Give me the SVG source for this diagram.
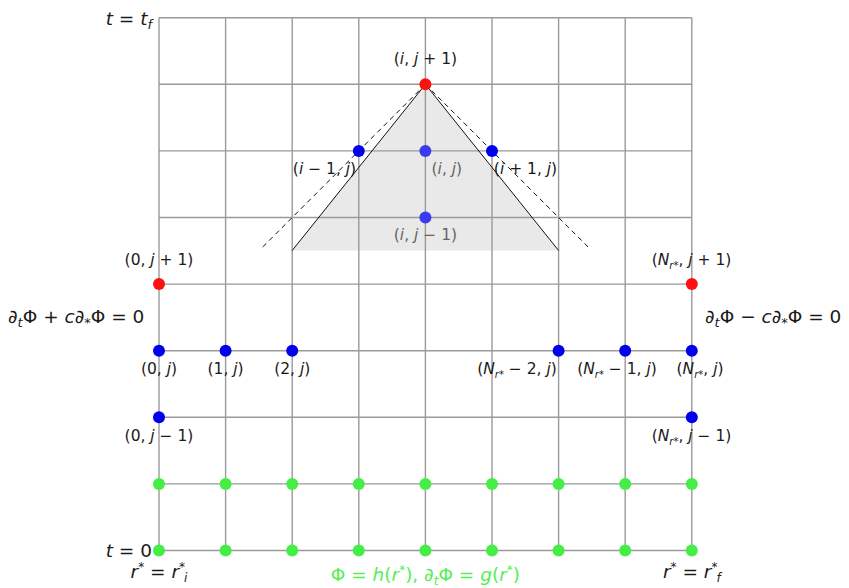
<svg xmlns="http://www.w3.org/2000/svg" width="849" height="588" viewBox="0 0 849 588">
<style>
.grid{stroke:#9a9a9a;stroke-width:1.4;fill:none}
.side{stroke:#111;stroke-width:1;fill:none}
.dash{stroke:#111;stroke-width:1;fill:none;stroke-dasharray:5 4}
.lbl{font-family:"DejaVu Sans","Noto Sans",sans-serif;font-size:15.5px;fill:#1a1a1a}
.lblg{font-family:"DejaVu Sans","Noto Sans",sans-serif;font-size:15.5px;fill:#666}
.big{font-family:"DejaVu Sans","Noto Sans",sans-serif;font-size:18.5px;fill:#1a1a1a}
.green{font-family:"DejaVu Sans","Noto Sans",sans-serif;font-size:18.5px;fill:#55ee55}
.it{font-style:italic}
.red{fill:#ff1010}
.blue{fill:#0000ee}
.lblue{fill:#3a3aee}
.grn{fill:#44ee44}
</style>
<rect width="849" height="588" fill="#ffffff"/>
<polygon points="425.4,84.3 292.2,250.5 558.6,250.5" fill="#e9e9e9"/>
<g id="connectors">
<g class="grid">
<line x1="159" y1="17.7" x2="159" y2="550.5"/>
<line x1="225.6" y1="17.7" x2="225.6" y2="550.5"/>
<line x1="292.2" y1="17.7" x2="292.2" y2="550.5"/>
<line x1="358.8" y1="17.7" x2="358.8" y2="550.5"/>
<line x1="425.4" y1="17.7" x2="425.4" y2="550.5"/>
<line x1="492" y1="17.7" x2="492" y2="550.5"/>
<line x1="558.6" y1="17.7" x2="558.6" y2="550.5"/>
<line x1="625.2" y1="17.7" x2="625.2" y2="550.5"/>
<line x1="691.8" y1="17.7" x2="691.8" y2="550.5"/>
<line x1="159" y1="17.7" x2="691.8" y2="17.7"/>
<line x1="159" y1="84.3" x2="691.8" y2="84.3"/>
<line x1="159" y1="150.9" x2="691.8" y2="150.9"/>
<line x1="159" y1="217.5" x2="691.8" y2="217.5"/>
<line x1="159" y1="284.1" x2="691.8" y2="284.1"/>
<line x1="159" y1="350.7" x2="691.8" y2="350.7"/>
<line x1="159" y1="417.3" x2="691.8" y2="417.3"/>
<line x1="159" y1="483.9" x2="691.8" y2="483.9"/>
<line x1="159" y1="550.5" x2="691.8" y2="550.5"/>
</g>
<line class="side" x1="425.4" y1="84.3" x2="292.2" y2="250.5"/>
<line class="side" x1="425.4" y1="84.3" x2="558.6" y2="250.5"/>
<line class="dash" x1="425.4" y1="84.3" x2="261" y2="248.7"/>
<line class="dash" x1="425.4" y1="84.3" x2="589.8" y2="248.7"/>
</g>
<g id="n_i_jp1"><circle class="red" cx="425.4" cy="84.3" r="6"/><text class="lbl" x="425.4" y="64" text-anchor="middle">(<tspan class="it">i</tspan>, <tspan class="it">j</tspan> + 1)</text></g>
<g id="n_im1_j"><circle class="blue" cx="358.8" cy="150.9" r="6"/><text class="lbl" x="324.5" y="174" text-anchor="middle">(<tspan class="it">i</tspan> − 1, <tspan class="it">j</tspan>)</text></g>
<g id="n_i_j"><circle class="lblue" cx="425.4" cy="150.9" r="6"/><text class="lblg" x="431.5" y="174">(<tspan class="it">i</tspan>, <tspan class="it">j</tspan>)</text></g>
<g id="n_ip1_j"><circle class="blue" cx="492" cy="150.9" r="6"/><text class="lbl" x="525.5" y="174" text-anchor="middle">(<tspan class="it">i</tspan> + 1, <tspan class="it">j</tspan>)</text></g>
<g id="n_i_jm1"><circle class="lblue" cx="425.4" cy="217.5" r="6"/><text class="lblg" x="425.4" y="240" text-anchor="middle">(<tspan class="it">i</tspan>, <tspan class="it">j</tspan> − 1)</text></g>
<g id="n_0_jp1"><circle class="red" cx="159" cy="284.1" r="6"/><text class="lbl" x="159" y="265" text-anchor="middle">(0, <tspan class="it">j</tspan> + 1)</text></g>
<g id="n_N_jp1"><circle class="red" cx="691.8" cy="284.1" r="6"/><text class="lbl" x="691.5" y="265" text-anchor="middle">(<tspan class="it">N</tspan><tspan class="it" font-size="10" dy="4">r*</tspan><tspan dy="-4">, </tspan><tspan class="it">j</tspan> + 1)</text></g>
<g id="n_0_j"><circle class="blue" cx="159" cy="350.7" r="6"/><text class="lbl" x="159" y="374" text-anchor="middle">(0, <tspan class="it">j</tspan>)</text></g>
<g id="n_1_j"><circle class="blue" cx="225.6" cy="350.7" r="6"/><text class="lbl" x="225.6" y="374" text-anchor="middle">(1, <tspan class="it">j</tspan>)</text></g>
<g id="n_2_j"><circle class="blue" cx="292.2" cy="350.7" r="6"/><text class="lbl" x="292.2" y="374" text-anchor="middle">(2, <tspan class="it">j</tspan>)</text></g>
<g id="n_Nm2_j"><circle class="blue" cx="558.6" cy="350.7" r="6"/><text class="lbl" x="517" y="374" text-anchor="middle">(<tspan class="it">N</tspan><tspan class="it" font-size="10" dy="4">r*</tspan><tspan dy="-4"> − 2, </tspan><tspan class="it">j</tspan>)</text></g>
<g id="n_Nm1_j"><circle class="blue" cx="625.2" cy="350.7" r="6"/><text class="lbl" x="617" y="374" text-anchor="middle">(<tspan class="it">N</tspan><tspan class="it" font-size="10" dy="4">r*</tspan><tspan dy="-4"> − 1, </tspan><tspan class="it">j</tspan>)</text></g>
<g id="n_N_j"><circle class="blue" cx="691.8" cy="350.7" r="6"/><text class="lbl" x="700" y="374" text-anchor="middle">(<tspan class="it">N</tspan><tspan class="it" font-size="10" dy="4">r*</tspan><tspan dy="-4">, </tspan><tspan class="it">j</tspan>)</text></g>
<g id="n_0_jm1"><circle class="blue" cx="159" cy="417.3" r="6"/><text class="lbl" x="159" y="441" text-anchor="middle">(0, <tspan class="it">j</tspan> − 1)</text></g>
<g id="n_N_jm1"><circle class="blue" cx="691.8" cy="417.3" r="6"/><text class="lbl" x="691.5" y="441" text-anchor="middle">(<tspan class="it">N</tspan><tspan class="it" font-size="10" dy="4">r*</tspan><tspan dy="-4">, </tspan><tspan class="it">j</tspan> − 1)</text></g>
<g id="initial_nodes">
<circle class="grn" cx="159" cy="483.9" r="6"/><circle class="grn" cx="225.6" cy="483.9" r="6"/><circle class="grn" cx="292.2" cy="483.9" r="6"/><circle class="grn" cx="358.8" cy="483.9" r="6"/><circle class="grn" cx="425.4" cy="483.9" r="6"/><circle class="grn" cx="492" cy="483.9" r="6"/><circle class="grn" cx="558.6" cy="483.9" r="6"/><circle class="grn" cx="625.2" cy="483.9" r="6"/><circle class="grn" cx="691.8" cy="483.9" r="6"/>
<circle class="grn" cx="159" cy="550.5" r="6"/><circle class="grn" cx="225.6" cy="550.5" r="6"/><circle class="grn" cx="292.2" cy="550.5" r="6"/><circle class="grn" cx="358.8" cy="550.5" r="6"/><circle class="grn" cx="425.4" cy="550.5" r="6"/><circle class="grn" cx="492" cy="550.5" r="6"/><circle class="grn" cx="558.6" cy="550.5" r="6"/><circle class="grn" cx="625.2" cy="550.5" r="6"/><circle class="grn" cx="691.8" cy="550.5" r="6"/>
</g>
<g id="labels">
<text class="big" x="152" y="25" text-anchor="end"><tspan class="it">t</tspan> = <tspan class="it">t</tspan><tspan class="it" font-size="13" dy="4">f</tspan></text>
<text class="big" x="152" y="557" text-anchor="end"><tspan class="it">t</tspan> = 0</text>
<text class="big" x="159" y="578" text-anchor="middle"><tspan class="it">r</tspan><tspan font-size="12" dy="-7">*</tspan><tspan dy="7"> = </tspan><tspan class="it">r</tspan><tspan font-size="12" dy="-7">*</tspan><tspan class="it" font-size="12" dx="-1" dy="11">i</tspan></text>
<text class="big" x="691.8" y="578" text-anchor="middle"><tspan class="it">r</tspan><tspan font-size="12" dy="-7">*</tspan><tspan dy="7"> = </tspan><tspan class="it">r</tspan><tspan font-size="12" dy="-7">*</tspan><tspan class="it" font-size="12" dx="-1" dy="11">f</tspan></text>
<text class="green" x="425.4" y="581" text-anchor="middle">Φ = <tspan class="it">h</tspan>(<tspan class="it">r</tspan><tspan font-size="12" dy="-7">*</tspan><tspan dy="7">), ∂</tspan><tspan class="it" font-size="12" dy="4">t</tspan><tspan dy="-4">Φ = </tspan><tspan class="it">g</tspan>(<tspan class="it">r</tspan><tspan font-size="12" dy="-7">*</tspan><tspan dy="7">)</tspan></text>
<text class="big" x="8" y="323">∂<tspan class="it" font-size="13" dy="4">t</tspan><tspan dy="-4">Φ + </tspan><tspan class="it">c</tspan>∂<tspan font-size="13" dy="4">*</tspan><tspan dy="-4">Φ = 0</tspan></text>
<text class="big" x="705" y="323">∂<tspan class="it" font-size="13" dy="4">t</tspan><tspan dy="-4">Φ − </tspan><tspan class="it">c</tspan>∂<tspan font-size="13" dy="4">*</tspan><tspan dy="-4">Φ = 0</tspan></text>
</g>
</svg>
